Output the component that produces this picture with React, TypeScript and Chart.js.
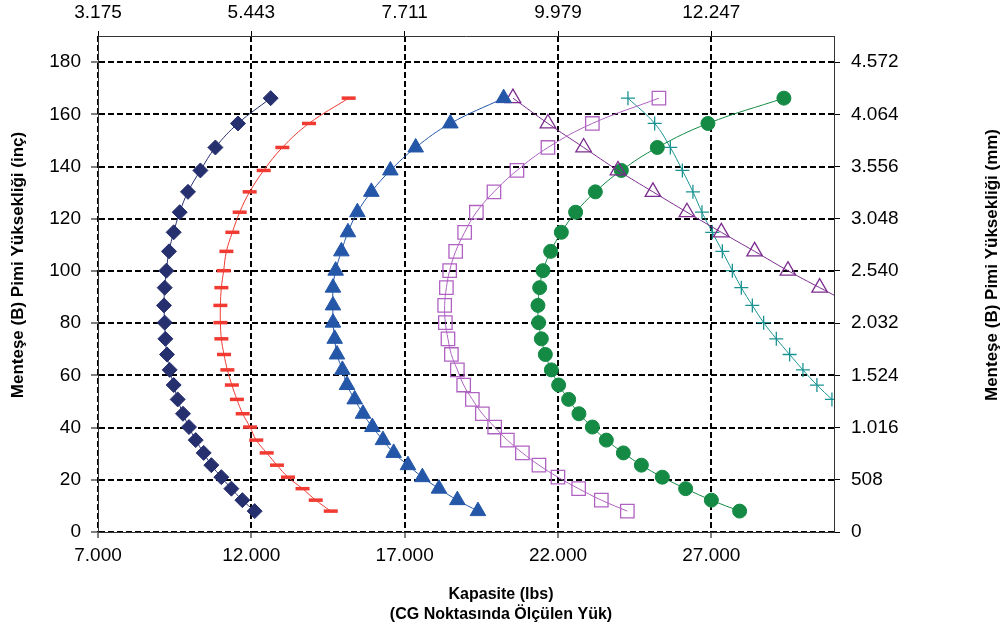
import React, { useEffect, useRef } from 'react';
import { Chart, registerables } from 'chart.js';

Chart.register(...registerables);

// Hinge pin heights (inches) shared by every curve
const heightsIn = [8, 12.2, 16.6, 21, 25.6, 30.3, 35.2, 40.2, 45.3, 50.8, 56.3, 62.1, 68, 74, 80.2, 86.8, 93.6, 100.1, 107.5, 114.8, 122.5, 130.3, 138.5, 147.3, 156.5, 166.2];

// Capacities (lbs) per curve, aligned to heightsIn (null = no point)
const navyLbs = [12109, 11708, 11349, 11023, 10697, 10446, 10186, 9967, 9771, 9599, 9468, 9338, 9250, 9198, 9175, 9152, 9175, 9230, 9315, 9468, 9664, 9934, 10339, 10828, 11565, 12631];
const redLbs = [14590, 14100, 13670, 13195, 12836, 12500, 12160, 11958, 11718, 11530, 11365, 11219, 11108, 11023, 10991, 10991, 11023, 11098, 11187, 11382, 11620, 11946, 12403, 13012, 13880, 15174];
const blueLbs = [19390, 18718, 18118, 17577, 17108, 16641, 16292, 15947, 15640, 15370, 15119, 14969, 14793, 14718, 14662, 14662, 14662, 14750, 14936, 15151, 15458, 15914, 16534, 17359, 18490, 20228];
const squareLbs = [24261, 23413, 22673, 21998, 21379, 20838, 20348, 19934, 19533, 19207, 18924, 18718, 18523, 18412, 18327, 18304, 18360, 18467, 18663, 18956, 19338, 19912, 20662, 21672, 23120, 25291];
const greenLbs = [27923, 27000, 26162, 25402, 24718, 24131, 23576, 23120, 22683, 22347, 22021, 21783, 21587, 21457, 21369, 21346, 21402, 21509, 21760, 22109, 22575, 23218, 24065, 25239, 26889, 29367];
const tealLbs = [null, null, null, null, null, null, null, null, null, 30932, 30443, 29987, 29553, 29119, 28706, 28337, 27978, 27685, 27359, 27033, 26694, 26400, 26055, 25663, 25152, 24281];
const openTriLbs = [null, null, null, null, null, null, null, null, null, null, null, null, null, null, null, 31650, 30532, 29498, 28412, 27326, 26205, 25096, 23955, 22836, 21672, 20531];

// Axis ticks and labels
const xTicks = [7000, 12000, 17000, 22000, 27000];
const xTickLabels = ['7.000', '12.000', '17.000', '22.000', '27.000'];
const kgTickLabels = ['3.175', '5.443', '7.711', '9.979', '12.247'];
const yTicks = [0, 20, 40, 60, 80, 100, 120, 140, 160, 180];
const mmTickLabels = ['0', '508', '1.016', '1.524', '2.032', '2.540', '3.048', '3.556', '4.064', '4.572'];

const xTitle = ['Kapasite (lbs)', '(CG Noktasında Ölçülen Yük)'];
const leftTitle = 'Menteşe (B) Pimi Yüksekliği (inç)';
const rightTitle = 'Menteşe (B) Pimi Yüksekliği (mm)';

const FONT = '"Liberation Sans", Arial, Helvetica, sans-serif';

function toPoints(values: (number | null)[]) {
  const pts: { x: number; y: number }[] = [];
  values.forEach((v, i) => {
    if (v !== null) pts.push({ x: v, y: heightsIn[i] });
  });
  return pts;
}

const axisTitles = {
  id: 'axisTitles',
  afterDraw(chart: any) {
    const ctx = chart.ctx;
    ctx.save();
    ctx.fillStyle = '#000';
    ctx.textAlign = 'center';
    ctx.textBaseline = 'middle';
    ctx.font = `bold 17px ${FONT}`;
    ctx.save();
    ctx.translate(18, 265);
    ctx.rotate(-Math.PI / 2);
    ctx.fillText(leftTitle, 0, 0);
    ctx.restore();
    ctx.save();
    ctx.translate(992, 265);
    ctx.rotate(-Math.PI / 2);
    ctx.fillText(rightTitle, 0, 0);
    ctx.restore();
    ctx.font = `bold 16px ${FONT}`;
    xTitle.forEach((line, i) => {
      ctx.fillText(line, 501, 595 + i * 19.5);
    });
    ctx.restore();
  },
};

export default function App() {
  const canvasRef = useRef<HTMLCanvasElement | null>(null);

  useEffect(() => {
    if (!canvasRef.current) return;
    Chart.defaults.font.family = FONT;
    const tickFont = { size: 19, family: FONT };
    const common = {
      showLine: true,
      tension: 0.4,
      borderWidth: 1,
      pointBorderWidth: 1,
    };
    const setX = (s: any) => {
      s.ticks = xTicks.map((v) => ({ value: v }));
    };
    const setY = (s: any) => {
      s.ticks = yTicks.map((v) => ({ value: v }));
    };
    const gridMain = { color: '#000', lineWidth: 2, tickWidth: 1, tickColor: '#000' };

    const chart = new Chart(canvasRef.current, {
      type: 'scatter',
      data: {
        datasets: [
          {
            ...common,
            data: toPoints(navyLbs),
            borderColor: '#27306f',
            backgroundColor: '#27306f',
            pointStyle: 'rectRot',
            pointRadius: 7.5,
          },
          {
            ...common,
            data: toPoints(redLbs),
            borderColor: '#f03a32',
            backgroundColor: '#f03a32',
            pointStyle: 'line',
            pointRadius: 7,
            pointBorderWidth: 3.5,
          },
          {
            ...common,
            data: toPoints(blueLbs),
            borderColor: '#2457a8',
            backgroundColor: '#2457a8',
            pointStyle: 'triangle',
            pointRadius: 9,
          },
          {
            ...common,
            data: toPoints(squareLbs),
            borderColor: '#b062c2',
            backgroundColor: 'rgba(0,0,0,0)',
            pointStyle: 'rect',
            pointRadius: 9.5,
            pointBorderWidth: 1.3,
          },
          {
            ...common,
            data: toPoints(openTriLbs),
            borderColor: '#7c2d8f',
            backgroundColor: 'rgba(0,0,0,0)',
            pointStyle: 'triangle',
            pointRadius: 9,
            pointBorderWidth: 1.3,
          },
          {
            ...common,
            data: toPoints(greenLbs),
            borderColor: '#148a45',
            backgroundColor: '#148a45',
            pointStyle: 'circle',
            pointRadius: 7,
          },
          {
            ...common,
            data: toPoints(tealLbs),
            borderColor: '#1b9393',
            backgroundColor: '#1b9393',
            pointStyle: 'cross',
            pointRadius: 7,
            pointBorderWidth: 1.3,
          },
        ],
      },
      options: {
        animation: false,
        responsive: true,
        maintainAspectRatio: false,
        layout: { padding: 0 },
        plugins: {
          legend: { display: false },
          tooltip: { enabled: false },
        },
        scales: {
          x: {
            type: 'linear',
            position: 'bottom',
            min: 7000,
            max: 31000,
            afterBuildTicks: setX,
            afterFit: (s: any) => {
              s.height = 96;
            },
            ticks: {
              callback: (_v: any, i: number) => xTickLabels[i],
              font: tickFont,
              color: '#000',
              padding: 6,
              autoSkip: false,
              maxRotation: 0,
            },
            grid: { ...gridMain, tickLength: 6 },
            border: { display: true, color: '#333', width: 1, dash: [6, 3] },
          },
          x2: {
            type: 'linear',
            position: 'top',
            min: 7000,
            max: 31000,
            afterBuildTicks: setX,
            afterFit: (s: any) => {
              s.height = 36;
            },
            ticks: {
              callback: (_v: any, i: number) => kgTickLabels[i],
              font: tickFont,
              color: '#000',
              padding: 7,
              autoSkip: false,
              maxRotation: 0,
            },
            grid: { drawOnChartArea: false, color: '#000', lineWidth: 1, tickLength: 5 },
            border: { display: true, color: '#333', width: 1 },
          },
          y: {
            type: 'linear',
            position: 'left',
            min: 0,
            max: 190,
            afterBuildTicks: setY,
            afterFit: (s: any) => {
              s.width = 98;
            },
            ticks: {
              callback: (_v: any, i: number) => String(yTicks[i]),
              font: tickFont,
              color: '#000',
              padding: 10,
              autoSkip: false,
            },
            grid: { ...gridMain, tickLength: 7 },
            border: { display: true, color: '#333', width: 1, dash: [6, 3] },
          },
          y2: {
            type: 'linear',
            position: 'right',
            min: 0,
            max: 190,
            afterBuildTicks: setY,
            afterFit: (s: any) => {
              s.width = 169;
            },
            ticks: {
              callback: (_v: any, i: number) => mmTickLabels[i],
              font: tickFont,
              color: '#000',
              padding: 11,
              autoSkip: false,
            },
            grid: { drawOnChartArea: false, color: '#000', lineWidth: 1, tickLength: 6 },
            border: { display: true, color: '#333', width: 1 },
          },
        },
      },
      plugins: [axisTitles],
    } as any);

    return () => {
      chart.destroy();
    };
  }, []);

  return (
    <div style={{ position: 'absolute', left: 0, top: 0, width: 1003, height: 628, background: '#fff' }}>
      <canvas ref={canvasRef} />
    </div>
  );
}
